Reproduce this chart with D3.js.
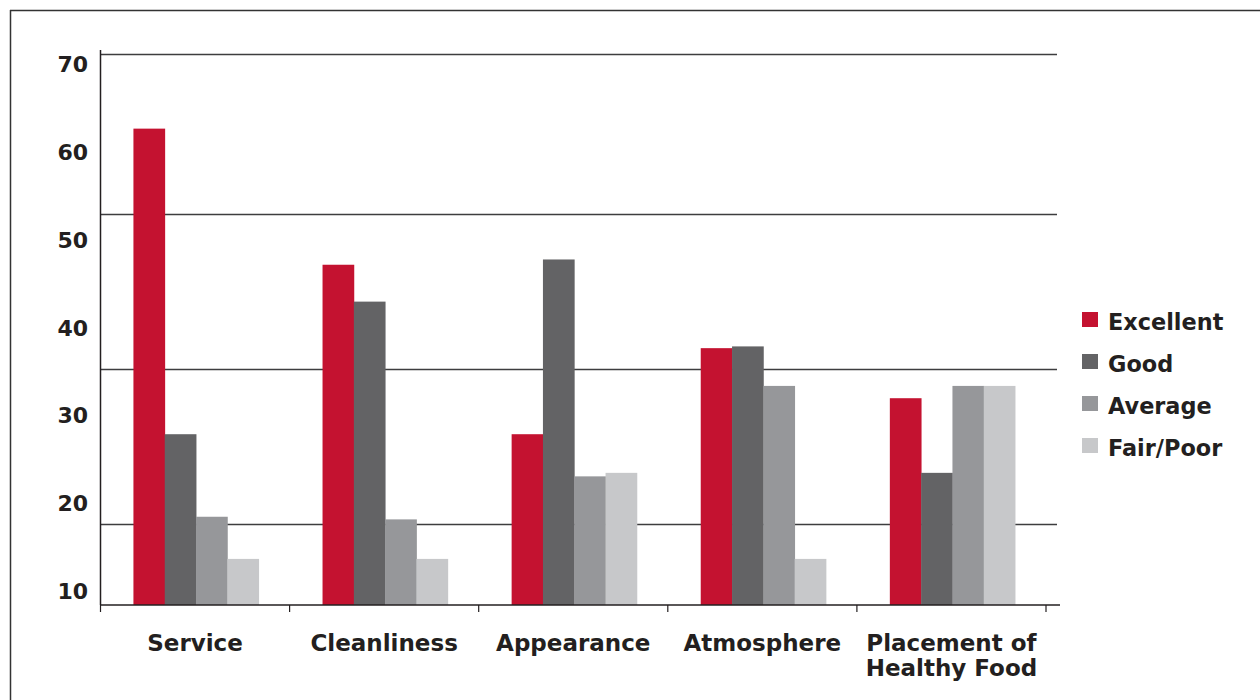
<!DOCTYPE html>
<html>
<head>
<meta charset="utf-8">
<script src="https://cdn.jsdelivr.net/npm/d3@7/dist/d3.min.js"></script>
<style>
  html, body { margin: 0; padding: 0; background: #fff; }
  svg { display: block; }
  text { font-family: "DejaVu Sans", sans-serif; font-weight: bold; fill: #231f20; }
</style>
</head>
<body>
<svg id="chart" width="1260" height="700"></svg>
<script>
// Survey ratings by aspect
const categories = ["Service", "Cleanliness", "Appearance", "Atmosphere", "Placement of\nHealthy Food"];
const series = ["Excellent", "Good", "Average", "Fair/Poor"];
const excellent = [62.6, 47.1, 27.8, 37.6, 31.9];
const good      = [27.8, 42.9, 47.7, 37.8, 23.4];
const average   = [18.4, 18.1, 23.0, 33.3, 33.3];
const fairPoor  = [13.6, 13.6, 23.4, 13.6, 33.3];
const yTicks = [10, 20, 30, 40, 50, 60, 70];
const gridValues = [17.6, 35.2, 52.9, 71.1];
const yFloor = 8.35;
const yTop = 71.1;

const seriesValues = [excellent, good, average, fairPoor];
const colors = ["#c41230", "#636365", "#96979a", "#c7c8ca"];

const svg = d3.select("#chart");

// outer frame (top and left edges)
svg.append("line").attr("x1", 10).attr("x2", 1260).attr("y1", 10.5).attr("y2", 10.5)
  .attr("stroke", "#333").attr("stroke-width", 1.5);
svg.append("line").attr("x1", 10.5).attr("x2", 10.5).attr("y1", 10).attr("y2", 700)
  .attr("stroke", "#333").attr("stroke-width", 1.5);

const plotLeft = 100.5, plotRight = 1046, axisRight = 1060, gridRight = 1057;
const y = d3.scaleLinear().domain([yFloor, yTop]).range([605, 54]);
const x = d3.scaleBand().domain(categories).range([plotLeft, plotRight]);
const xs = d3.scaleBand().domain(series).range([0, x.bandwidth()]).paddingOuter(1.02);

// horizontal gridlines
svg.append("g").selectAll("line").data(gridValues).join("line")
  .attr("x1", plotLeft).attr("x2", gridRight)
  .attr("y1", d => Math.round(y(d)) + 0.5).attr("y2", d => Math.round(y(d)) + 0.5)
  .attr("stroke", "#3d3d3f").attr("stroke-width", 1.5);

// bars
const groups = svg.append("g").selectAll("g").data(categories).join("g")
  .attr("transform", d => `translate(${x(d) + 1},0)`);
groups.selectAll("rect")
  .data((c, i) => series.map((s, j) => ({ s, j, v: seriesValues[j][i] })))
  .join("rect")
  .attr("x", d => xs(d.s))
  .attr("width", xs.bandwidth() + 0.4)
  .attr("y", d => y(d.v))
  .attr("height", d => y(yFloor) - y(d.v))
  .attr("fill", d => colors[d.j]);

// y axis line and labels
svg.append("line").attr("x1", plotLeft).attr("x2", plotLeft).attr("y1", 50).attr("y2", y(yFloor))
  .attr("stroke", "#231f20").attr("stroke-width", 1.5);
const yLabel = d3.scaleLinear().domain([10, 70]).range([590.5, 64]);
const yAxis = svg.append("g").attr("transform", "translate(88,0)")
  .call(d3.axisLeft(yLabel).tickValues(yTicks).tickSize(0).tickPadding(0));
yAxis.select(".domain").remove();
yAxis.selectAll("text").attr("font-size", 22).attr("font-family", "DejaVu Sans")
  .attr("font-weight", "bold").attr("fill", "#231f20").attr("dy", "0.36em");

// x axis line with ticks at category boundaries
svg.append("line").attr("x1", plotLeft).attr("x2", axisRight)
  .attr("y1", y(yFloor)).attr("y2", y(yFloor))
  .attr("stroke", "#231f20").attr("stroke-width", 1.5);
const bounds = categories.map(c => x(c)).concat([x(categories[categories.length - 1]) + x.bandwidth()]);
svg.append("g").selectAll("line").data(bounds).join("line")
  .attr("x1", d => d).attr("x2", d => d)
  .attr("y1", y(yFloor)).attr("y2", y(yFloor) + 7)
  .attr("stroke", "#231f20").attr("stroke-width", 1.2);

// category labels
const xl = svg.append("g").selectAll("text").data(categories).join("text")
  .attr("x", d => x(d) + x.bandwidth() / 2)
  .attr("y", 651)
  .attr("text-anchor", "middle")
  .attr("font-size", 23);
xl.each(function (d) {
  const lines = d.split("\n");
  d3.select(this).selectAll("tspan").data(lines).join("tspan")
    .attr("x", x(d) + x.bandwidth() / 2)
    .attr("dy", (l, i) => i === 0 ? 0 : 25)
    .text(l => l);
});

// legend
const legend = svg.append("g").selectAll("g").data(series).join("g")
  .attr("transform", (d, i) => `translate(1082,${312 + i * 42})`);
legend.append("rect").attr("width", 16).attr("height", 15)
  .attr("fill", (d, i) => colors[i]);
legend.append("text").attr("x", 26).attr("y", 18).attr("font-size", 22.4).text(d => d);
</script>
</body>
</html>
